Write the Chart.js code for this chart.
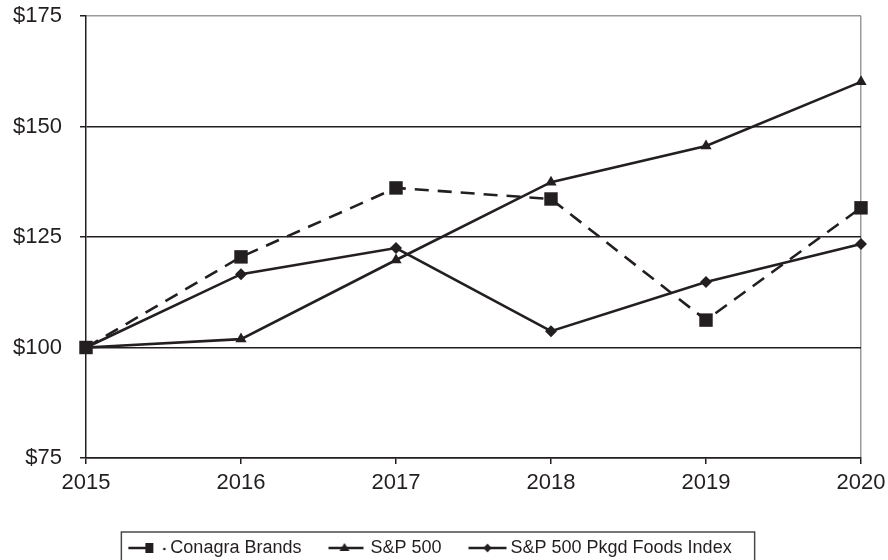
<!DOCTYPE html>
<html>
<head>
<meta charset="utf-8">
<script src="https://cdn.jsdelivr.net/npm/chart.js@4"></script>
<style>
  html, body { margin: 0; padding: 0; background: #fff; }
  canvas { display: block; }
</style>
</head>
<body>
<canvas id="tsrChart" width="888" height="560"></canvas>
<script>
"use strict";
// values
const years = ['2015', '2016', '2017', '2018', '2019', '2020'];
const conagra = [100, 120.5, 136.1, 133.6, 106.2, 131.6];
const sp500 = [100, 101.9, 119.8, 137.4, 145.6, 160.1];
const pkgdFoods = [100, 116.6, 122.5, 103.7, 114.8, 123.4];
const yTicks = [75, 100, 125, 150, 175];

const ink = '#231f20';
const frameGray = '#9a9a9a';
const fontFamily = "'Liberation Sans', Arial, sans-serif";

// little line+marker samples for the legend
function legendSample(kind) {
    const c = document.createElement('canvas');
    c.width = 46;
    c.height = 14;
    const g = c.getContext('2d');
    g.strokeStyle = ink;
    g.fillStyle = ink;
    g.lineWidth = 2.5;
    const cy = 7;
    g.beginPath();
    if (kind === 'square') {
        g.moveTo(6, cy); g.lineTo(25, cy);
        g.stroke();
        g.fillRect(23, cy - 5, 8, 10);
        g.beginPath();
        g.arc(42, cy + 1, 1.3, 0, Math.PI * 2);
        g.fill();
    } else if (kind === 'triangle') {
        g.moveTo(6, cy); g.lineTo(41, cy);
        g.stroke();
        g.beginPath();
        g.moveTo(22, cy - 5); g.lineTo(27, cy + 3); g.lineTo(17, cy + 3);
        g.closePath();
        g.fill();
    } else {
        g.moveTo(6, cy); g.lineTo(44, cy);
        g.stroke();
        g.beginPath();
        g.moveTo(25, cy - 4.5); g.lineTo(29, cy); g.lineTo(25, cy + 4.5); g.lineTo(21, cy);
        g.closePath();
        g.fill();
    }
    return c;
}
const samples = [legendSample('square'), legendSample('triangle'), legendSample('diamond')];

// frame around the legend, built from the legend's own hit boxes
const legendFrame = {
    id: 'legendFrame',
    afterDraw(chart) {
        const lg = chart.legend;
        if (!lg || !lg.legendHitBoxes || !lg.legendHitBoxes.length) return;
        const boxes = lg.legendHitBoxes;
        const first = boxes[0];
        const last = boxes[boxes.length - 1];
        const left = first.left - 8;
        const right = last.left + last.width + 23;
        const top = first.top + first.height / 2 - 16;
        const ctx = chart.ctx;
        ctx.save();
        ctx.strokeStyle = '#4a4a4a';
        ctx.lineWidth = 1.5;
        ctx.strokeRect(left, top, right - left, 40);
        ctx.restore();
    }
};

function initializeChart() {
    const canvas = document.getElementById('tsrChart');
    const ctx = canvas.getContext('2d');
    new Chart(ctx, {
        type: 'line',
        data: {
            labels: years,
            datasets: [{
                    label: 'Conagra Brands',
                    data: conagra,
                    borderColor: ink,
                    backgroundColor: ink,
                    borderWidth: 2.6,
                    borderDash: [14, 9],
                    pointStyle: 'rect',
                    pointRadius: 9.5,
                    pointBorderWidth: 0,
                    tension: 0,
                    clip: false
                }, {
                    label: 'S&P 500',
                    data: sp500,
                    borderColor: ink,
                    backgroundColor: ink,
                    borderWidth: 2.6,
                    pointStyle: 'triangle',
                    pointRadius: 6.5,
                    pointBorderWidth: 0,
                    tension: 0,
                    clip: false
                }, {
                    label: 'S&P 500 Pkgd Foods Index',
                    data: pkgdFoods,
                    borderColor: ink,
                    backgroundColor: ink,
                    borderWidth: 2.6,
                    pointStyle: 'rectRot',
                    pointRadius: 6,
                    pointBorderWidth: 0,
                    tension: 0,
                    clip: false
                }]
        },
        options: {
            responsive: false,
            animation: false,
            devicePixelRatio: 1,
            layout: {
                padding: { top: 16, right: 27, left: 0, bottom: 0 }
            },
            plugins: {
                tooltip: { enabled: false },
                legend: {
                    position: 'bottom',
                    maxHeight: 49,
                    labels: {
                        usePointStyle: true,
                        pointStyleWidth: 32,
                        padding: 28,
                        color: ink,
                        font: { family: fontFamily, size: 18 },
                        generateLabels(chart) {
                            const items = Chart.defaults.plugins.legend.labels.generateLabels(chart);
                            items.forEach((item, i) => { item.pointStyle = samples[i]; });
                            return items;
                        }
                    }
                }
            },
            scales: {
                x: {
                    offset: false,
                    border: { color: ink, width: 1.5 },
                    grid: {
                        color: c => (c.index === years.length - 1 ? frameGray : 'rgba(0,0,0,0)'),
                        tickColor: ink,
                        tickLength: 6,
                        lineWidth: 1.5
                    },
                    ticks: {
                        color: ink,
                        padding: 6,
                        maxRotation: 0,
                        font: { family: fontFamily, size: 22 }
                    },
                    afterFit(scale) {
                        scale.height = 53;
                        scale.paddingLeft = 0;
                        scale.paddingRight = 0;
                    }
                },
                y: {
                    min: yTicks[0],
                    max: yTicks[yTicks.length - 1],
                    border: { color: ink, width: 1.5 },
                    grid: {
                        color: c => (c.tick && c.tick.value === yTicks[yTicks.length - 1] ? frameGray : ink),
                        tickColor: ink,
                        tickLength: 6,
                        lineWidth: 1.5
                    },
                    afterBuildTicks(scale) {
                        scale.ticks = yTicks.map(v => ({ value: v }));
                    },
                    ticks: {
                        color: ink,
                        padding: 18,
                        font: { family: fontFamily, size: 22 },
                        callback: v => '$' + v
                    },
                    afterFit(scale) {
                        scale.width = 86;
                        scale.paddingTop = 0;
                        scale.paddingBottom = 0;
                    }
                }
            }
        },
        plugins: [legendFrame]
    });
}
initializeChart();
</script>
</body>
</html>
